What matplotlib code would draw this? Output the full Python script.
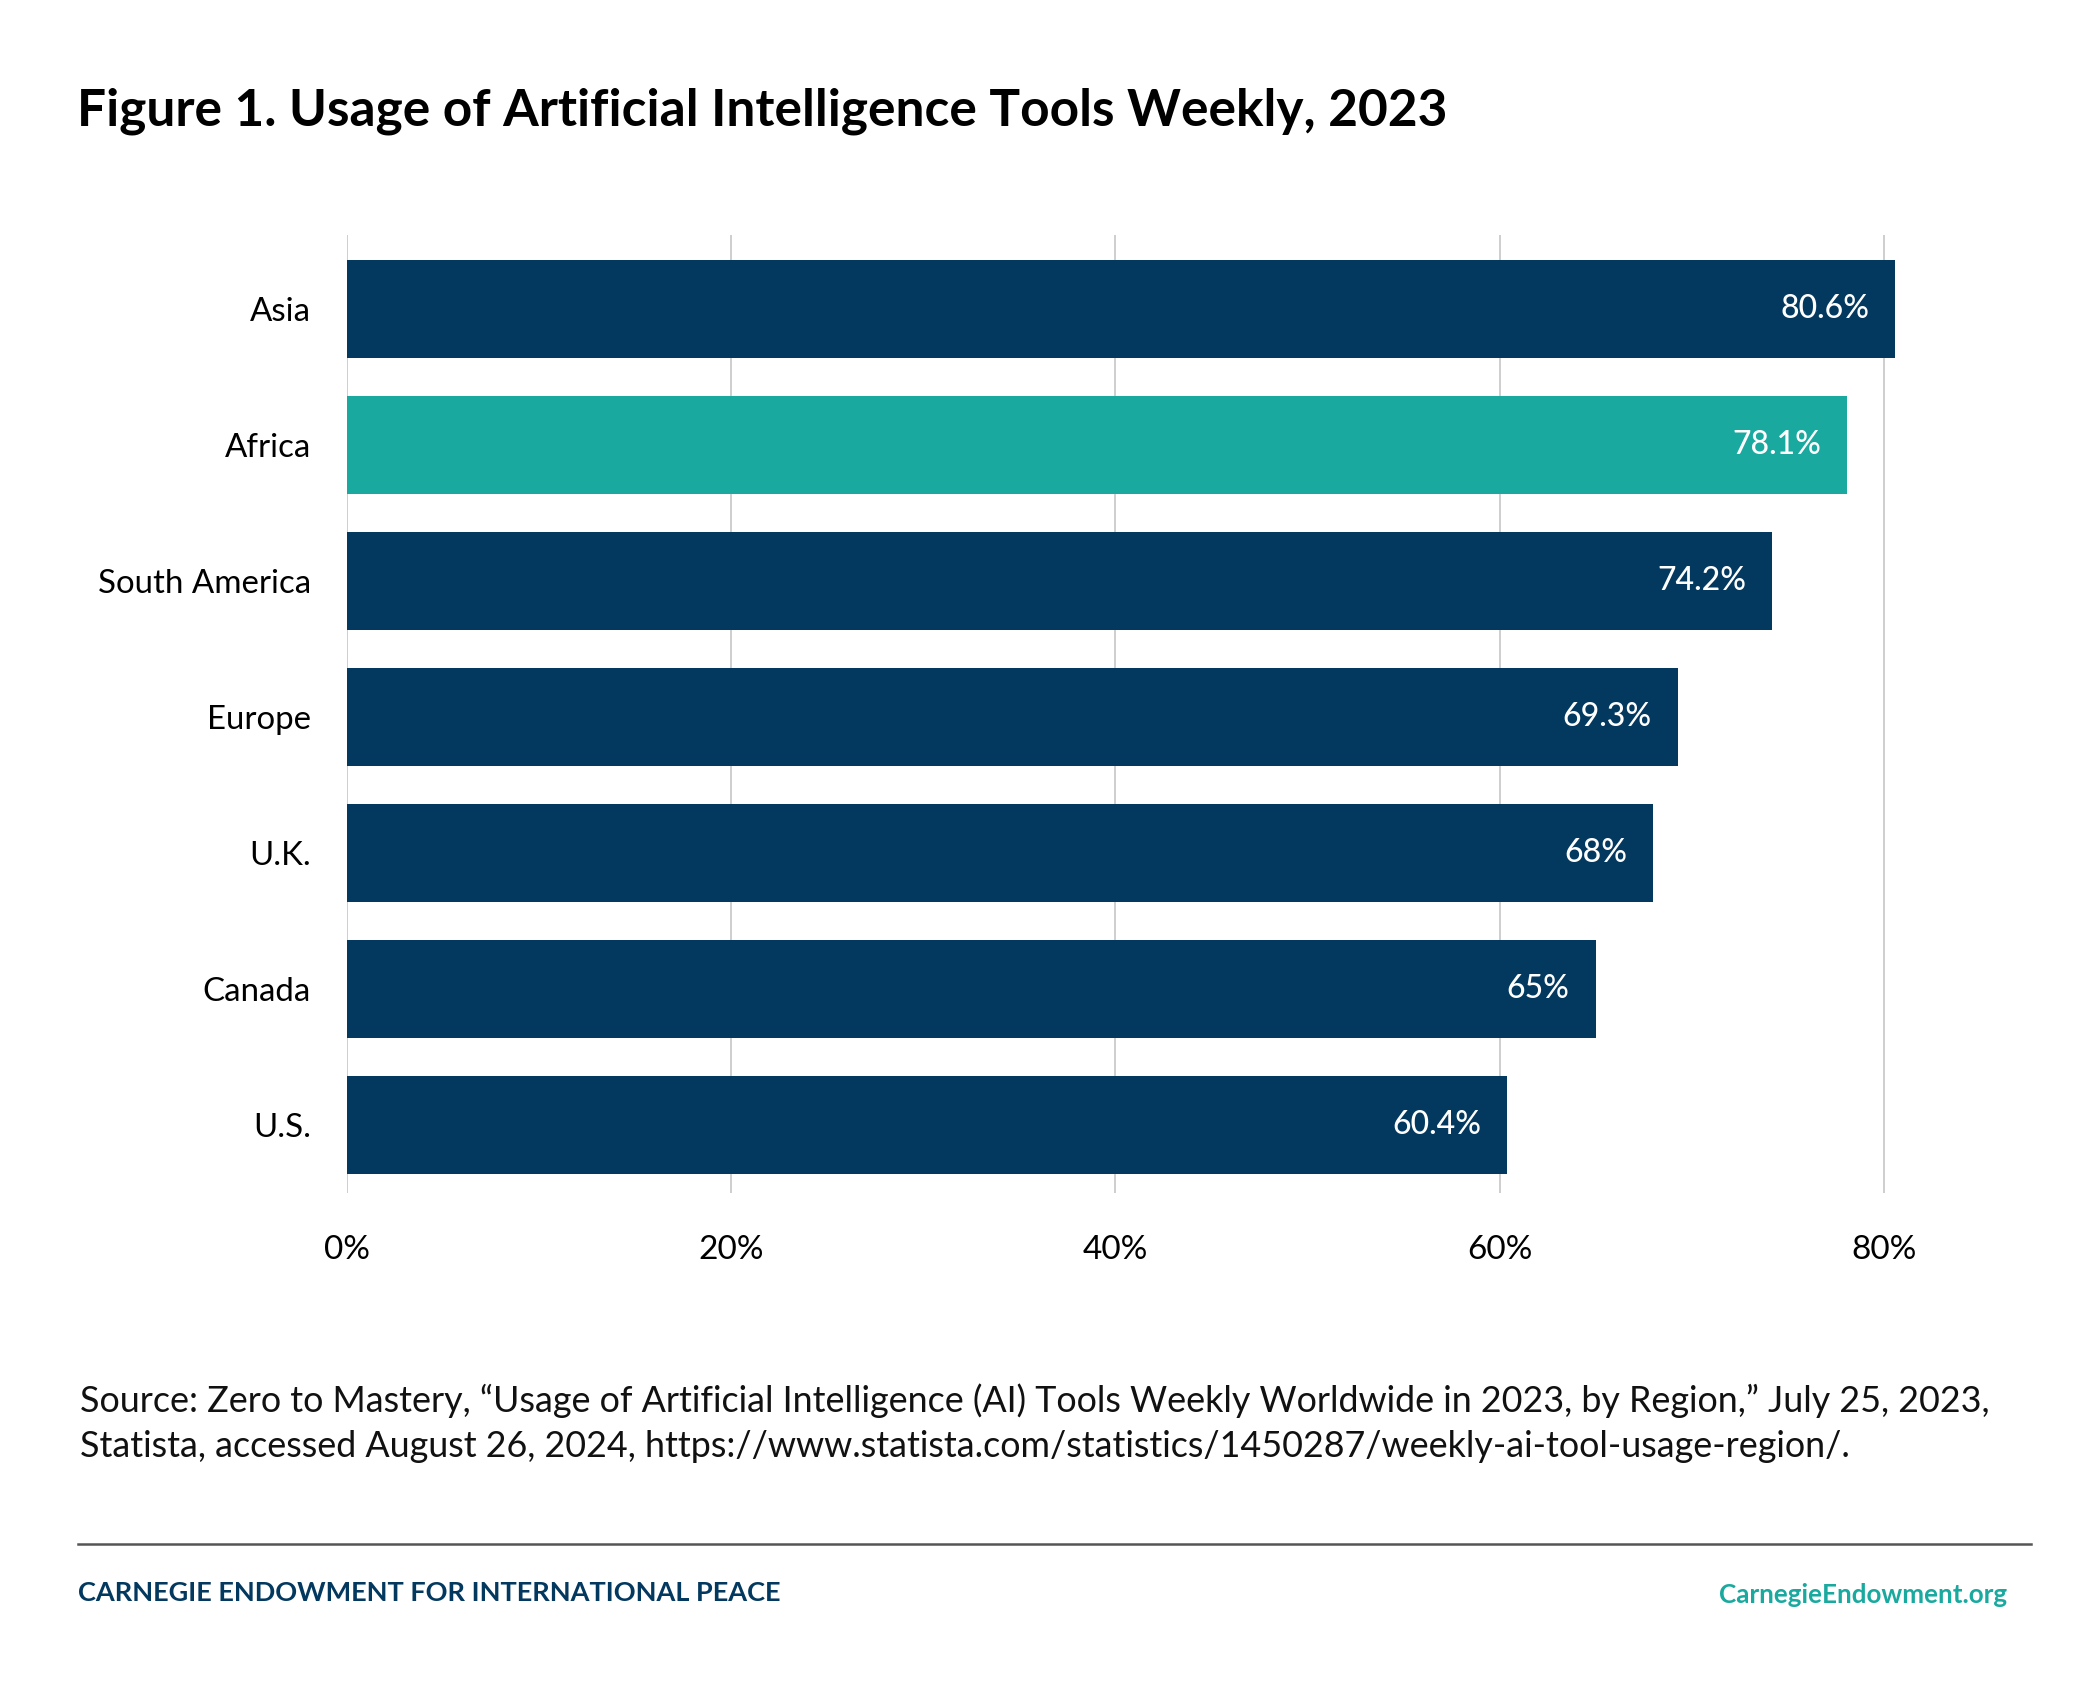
import matplotlib.pyplot as plt
from matplotlib.lines import Line2D

# data
regions = ['Asia', 'Africa', 'South America', 'Europe', 'U.K.', 'Canada', 'U.S.']
usage = [80.6, 78.1, 74.2, 69.3, 68.0, 65.0, 60.4]
value_labels = ['80.6%', '78.1%', '74.2%', '69.3%', '68%', '65%', '60.4%']
highlight = 'Africa'
x_ticks = [0, 20, 40, 60, 80]
x_tick_labels = ['0%', '20%', '40%', '60%', '80%']

NAVY = '#03385f'
TEAL = '#1aa99f'

plt.rcParams['font.family'] = ['Lato', 'DejaVu Sans']

fig = plt.figure(figsize=(20.84, 17.03), dpi=100)
ax = fig.add_axes([0.1665, 0.2995, 0.7467, 0.5625])

ypos = list(range(len(regions)))
colors = [TEAL if r == highlight else NAVY for r in regions]
ax.barh(ypos, usage, height=0.72, color=colors, zorder=3)

for y, v, lab in zip(ypos, usage, value_labels):
    ax.annotate(lab, (v, y), xytext=(-19, 0), textcoords='offset points',
                ha='right', va='center', color='white', fontsize=23,
                fontweight='medium')

ax.set_xlim(0, 81)
ax.set_ylim(6.5, -0.544)
ax.set_xticks(x_ticks)
ax.set_xticklabels(x_tick_labels, fontsize=24)
ax.set_yticks(ypos)
ax.set_yticklabels(regions, fontsize=23.8)
ax.tick_params(axis='x', length=0, pad=30)
ax.tick_params(axis='y', length=0, pad=26)
ax.grid(axis='x', color='#c6c6c6', linewidth=1.2, zorder=0)
ax.set_axisbelow(True)
for s in ax.spines.values():
    s.set_visible(False)

# title
fig.text(0.037, 0.9266, 'Figure 1. Usage of Artificial Intelligence Tools Weekly, 2023',
         fontsize=37, fontweight='bold', va='baseline', ha='left')

# source note
fig.text(0.0384, 0.1709,
         'Source: Zero to Mastery, \u201cUsage of Artificial Intelligence (AI) Tools Weekly '
         'Worldwide in 2023, by Region,\u201d July 25, 2023,',
         fontsize=25.8, va='baseline', ha='left', color='#111111')
fig.text(0.0384, 0.1444,
         'Statista, accessed August 26, 2024, '
         'https://www.statista.com/statistics/1450287/weekly-ai-tool-usage-region/.',
         fontsize=25.8, va='baseline', ha='left', color='#111111')

# footer rule and branding
fig.add_artist(Line2D([0.0374, 0.9746], [0.0934, 0.0934], transform=fig.transFigure,
                      color='#555555', linewidth=1.8))
fig.text(0.0374, 0.0599, 'CARNEGIE ENDOWMENT FOR INTERNATIONAL PEACE',
         fontsize=19.5, fontweight='bold', color=NAVY, va='baseline', ha='left')
fig.text(0.963, 0.0587, 'CarnegieEndowment.org',
         fontsize=18.7, fontweight='bold', color=TEAL, va='baseline', ha='right')

fig.savefig('out.png', dpi=100)
